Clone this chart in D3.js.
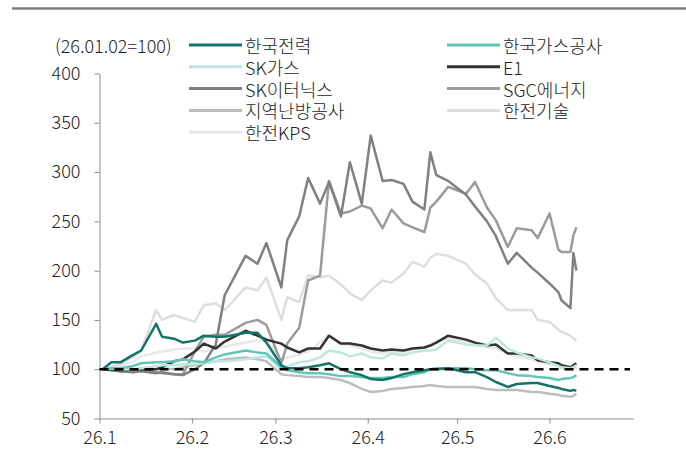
<!DOCTYPE html>
<html>
<head>
<meta charset="utf-8">
<script src="https://cdn.jsdelivr.net/npm/d3@7"></script>
<style>
  body { margin: 0; background: #fff; }
  svg text {
    font-family: "Noto Sans CJK KR", "Noto Sans", sans-serif;
    font-size: 18px;
    font-weight: 300;
    fill: #222;
  }
</style>
</head>
<body>
<svg id="chart" width="686" height="461"></svg>
<script>
/* ── data (26.01.02 = 100) ─────────────────────────────────────────────── */

const dates = [
  "2026-01-02", "2026-01-05", "2026-01-08", "2026-01-12", "2026-01-15", "2026-01-20", "2026-01-22", "2026-01-26", "2026-01-29",
  "2026-02-02", "2026-02-05", "2026-02-09", "2026-02-12", "2026-02-19", "2026-02-23", "2026-02-26",
  "2026-03-03", "2026-03-05", "2026-03-09", "2026-03-12", "2026-03-16", "2026-03-19", "2026-03-23", "2026-03-26", "2026-03-30",
  "2026-04-02", "2026-04-06", "2026-04-09", "2026-04-13", "2026-04-16", "2026-04-20", "2026-04-22", "2026-04-24", "2026-04-28",
  "2026-05-04", "2026-05-07", "2026-05-11", "2026-05-14", "2026-05-18", "2026-05-21", "2026-05-26", "2026-05-28",
  "2026-06-01", "2026-06-04", "2026-06-05", "2026-06-08", "2026-06-09", "2026-06-10",
];

const kepco = [
  100, 107, 107, 114, 119, 146, 133, 131, 127,
  129, 134, 133, 133, 137, 137, 127,
  104, 101, 101, 102, 104, 106, 100, 97, 94,
  90, 89, 91, 95, 97, 99, 100, 100, 101,
  97, 97, 92, 87, 82, 85, 86, 86,
  83, 81, 80, 78, 79, 78,
];
const kogas = [
  100, 101, 101, 103, 106, 107, 107, 108, 110,
  108, 107, 112, 115, 119, 117, 116,
  102, 99, 97, 96, 96, 95, 93, 93, 92,
  91, 91, 92, 92, 95, 97, 100, 101, 101,
  101, 100, 99, 99, 96, 94, 93, 92,
  91, 89, 90, 91, 92, 94,
];
const skGas = [
  100, 101, 100, 100, 101, 103, 104, 104, 105,
  105, 106, 108, 108, 110, 112, 113,
  100, 103, 107, 108, 112, 119, 117, 113, 116,
  112, 111, 116, 114, 117, 119, 119, 120, 129,
  125, 124, 124, 132, 121, 117, 112, 111,
  107, 103, 102, 101, 102, 104,
];
const e1 = [
  100, 100, 99, 100, 100, 100, 102, 108, 110,
  118, 126, 121, 128, 139, 134, 130,
  126, 122, 117, 121, 121, 134, 126, 126, 124,
  121, 119, 120, 119, 121, 122, 124, 127, 134,
  130, 127, 124, 125, 116, 116, 114, 109,
  107, 106, 104, 102, 104, 106,
];
const skEternix = [
  100, 99, 98, 97, 98, 96, 97, 95, 94,
  100, 106, 125, 175, 215, 207, 228,
  183, 231, 255, 294, 268, 290, 255, 310, 268,
  337, 291, 292, 288, 270, 262, 320, 297, 291,
  277, 265, 250, 235, 207, 218, 203, 198,
  187, 178, 170, 162, 218, 200,
];
const sgc = [
  100, 100, 100, 98, 99, 97, 96, 95, 95,
  118, 133, 135, 135, 147, 150, 145,
  106, 126, 142, 190, 195, 291, 258, 260, 266,
  263, 243, 262, 248, 244, 239, 264, 270, 285,
  278, 290, 264, 251, 224, 243, 241, 233,
  258, 221, 219, 219, 236, 244,
];
const districtHeat = [
  100, 99, 98, 98, 99, 100, 101, 100, 102,
  104, 106, 108, 110, 112, 110, 108,
  95, 94, 93, 92, 92, 91, 89, 86, 80,
  77, 78, 80, 81, 82, 83, 84, 83, 82,
  82, 82, 80, 79, 79, 79, 77, 77,
  75, 74, 73, 72, 73, 75,
];
const kepcoEnc = [
  100, 102, 106, 112, 119, 160, 150, 155, 152,
  148, 165, 167, 160, 183, 180, 193,
  150, 173, 168, 195, 193, 195, 186, 177, 170,
  180, 190, 188, 197, 209, 204, 213, 217, 215,
  207, 196, 187, 172, 160, 160, 160, 150,
  148, 140, 138, 134, 131, 129,
];
const kps = [
  100, 101, 104, 107, 113, 117, 118, 120, 121,
  121, 118, 121, 123, 127, 129, 129,
  110, 112, 115, 118, 127, 135, 126, 124, 121,
  118, 116, 118, 117, 120, 122, 125, 128, 131,
  128, 125, 122, 121, 116, 113, 110, 108,
  105, 103, 101, 99, 100, 102,
];

// legend order (row-major, two columns)
const seriesNames = ["한국전력", "한국가스공사", "SK가스", "E1", "SK이터닉스", "SGC에너지", "지역난방공사", "한전기술", "한전KPS"];
const seriesValues = [kepco, kogas, skGas, e1, skEternix, sgc, districtHeat, kepcoEnc, kps];
const seriesColors = ["#137468", "#62c6b7", "#bce8e0", "#333333", "#808080", "#9b9b9b", "#bdbdbd", "#dedede", "#e8e8e8"];

const yTicks = [50, 100, 150, 200, 250, 300, 350, 400];
const xTickDates = ["2026-01-01", "2026-02-01", "2026-03-01", "2026-04-01", "2026-05-01", "2026-06-01"];
const baseLabel = "(26.01.02=100)";
const baseValue = 100;

/* ── setup ─────────────────────────────────────────────────────────────── */

const parse = d3.timeParse("%Y-%m-%d");
const svg = d3.select("#chart");

const x = d3.scaleTime()
  .domain([parse("2026-01-01"), parse("2026-06-29")])
  .range([99.5, 633]);
const y = d3.scaleLinear().domain([50, 400]).range([418.5, 73.5]);

// top rule
svg.append("line")
  .attr("x1", 12).attr("x2", 686)
  .attr("y1", 8.5).attr("y2", 8.5)
  .attr("stroke", "#7f7f7f")
  .attr("stroke-width", 2.5);

/* ── axes ──────────────────────────────────────────────────────────────── */

const yAxis = svg.append("g")
  .attr("transform", `translate(${x.range()[0]},0)`)
  .call(d3.axisLeft(y).tickValues(yTicks).tickSize(5).tickSizeOuter(0).tickPadding(14));

const xAxis = svg.append("g")
  .attr("transform", `translate(0,${y.range()[0]})`)
  .call(
    d3.axisBottom(x)
      .tickValues(xTickDates.map(parse))
      .tickFormat(d3.timeFormat("%y.%-m"))
      .tickSize(5)
      .tickSizeOuter(0)
      .tickPadding(8)
  );

[yAxis, xAxis].forEach((a) => {
  a.select(".domain").attr("stroke", "#8c8c8c");
  a.selectAll(".tick line").attr("stroke", "#8c8c8c");
  a.selectAll(".tick text")
    .attr("font-family", null)
    .attr("font-size", null)
    .attr("fill", "#222");
});

/* ── lines ─────────────────────────────────────────────────────────────── */

const line = d3.line()
  .x((d) => x(d.date))
  .y((d) => y(d.value));

const plot = svg.append("g");
// draw the last series first so 한국전력 ends up on top
seriesNames.map((name, i) => i).reverse().forEach((i) => {
  const pts = dates.map((d, j) => ({ date: parse(d), value: seriesValues[i][j] }));
  plot.append("path")
    .datum(pts)
    .attr("fill", "none")
    .attr("stroke", seriesColors[i])
    .attr("stroke-width", 2.5)
    .attr("stroke-linejoin", "round")
    .attr("d", line);
});

// base line at 100
svg.append("line")
  .attr("x1", x.range()[0])
  .attr("x2", x(parse("2026-06-28")))
  .attr("y1", y(baseValue))
  .attr("y2", y(baseValue))
  .attr("stroke", "#000")
  .attr("stroke-width", 2.5)
  .attr("stroke-dasharray", "9,6");

/* ── legend ────────────────────────────────────────────────────────────── */

svg.append("text")
  .attr("x", 55)
  .attr("y", 45)
  .attr("dominant-baseline", "central")
  .text(baseLabel);

const colX = [189, 447];
const rowY = (r) => 45 + r * 21.8;

seriesNames.forEach((name, i) => {
  const cx = colX[i % 2];
  const cy = rowY(Math.floor(i / 2));
  svg.append("line")
    .attr("x1", cx).attr("x2", cx + 53)
    .attr("y1", cy).attr("y2", cy)
    .attr("stroke", seriesColors[i])
    .attr("stroke-width", 3);
  svg.append("text")
    .attr("x", cx + 56)
    .attr("y", cy)
    .attr("dominant-baseline", "central")
    .text(name);
});
</script>
</body>
</html>
